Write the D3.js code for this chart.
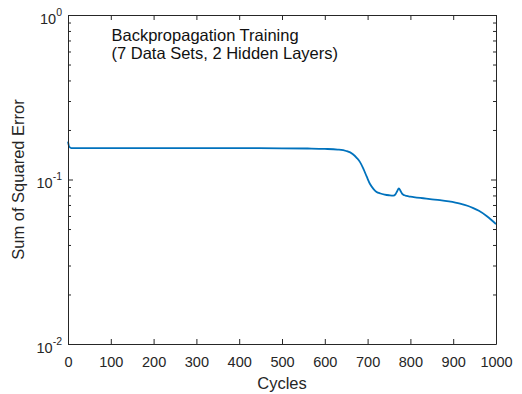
<!DOCTYPE html>
<html>
<head>
<meta charset="utf-8">
<script src="https://cdn.jsdelivr.net/npm/d3@7"></script>
<style>
  html, body { margin: 0; padding: 0; background: #fff; }
  svg { display: block; font-family: "Liberation Sans", Arial, Helvetica, sans-serif; }
</style>
</head>
<body>
<svg id="chart" width="522" height="394"></svg>
<script>
// ---- data ----
const cycles = [0, 3, 8, 50, 100, 200, 300, 400, 500, 560, 600, 630, 650, 665, 675, 682, 690, 698, 706, 714, 721, 730, 740, 750, 760, 765, 769, 773, 777, 781, 786, 791, 800, 815, 830, 846, 869, 890, 916, 935, 947, 960, 978, 990, 1000];
const sse    = [0.170, 0.158, 0.155, 0.155, 0.155, 0.155, 0.155, 0.155, 0.1548, 0.1543, 0.1535, 0.152, 0.149, 0.143, 0.135, 0.128, 0.1165, 0.104, 0.0935, 0.0875, 0.0840, 0.0822, 0.0810, 0.0802, 0.0797, 0.0812, 0.0848, 0.0884, 0.0852, 0.0818, 0.0802, 0.0794, 0.0786, 0.0777, 0.0769, 0.0760, 0.0749, 0.0736, 0.0714, 0.0690, 0.0670, 0.0645, 0.0600, 0.0565, 0.0535];
const xTickValues = [0, 100, 200, 300, 400, 500, 600, 700, 800, 900, 1000];
const yDecades = [0.01, 0.1, 1];
const yDecadeExponents = ["-2", "-1", "0"];
const xLabel = "Cycles";
const yLabel = "Sum of Squared Error";
const annotation = ["Backpropagation Training", "(7 Data Sets, 2 Hidden Layers)"];

// ---- layout ----
const L = 68, R = 496, T = 15, B = 344;
const ink = "#262626";
const svg = d3.select("#chart");

const x = d3.scaleLinear().domain([0, 1000]).range([L, R]);
const y = d3.scaleLog().domain([0.01, 1]).range([B, T]);

const minorY = y.ticks().filter(v => !yDecades.some(d => Math.abs(d - v) < 1e-12));

// plot line
const pts = cycles.map((c, i) => ({ c, v: sse[i] }));
svg.append("path")
  .datum(pts)
  .attr("fill", "none")
  .attr("stroke", "#0072BD")
  .attr("stroke-width", 1.8)
  .attr("stroke-linejoin", "round")
  .attr("d", d3.line().x(d => x(d.c)).y(d => y(d.v)).curve(d3.curveMonotoneX));

// axes (ticks inward)
function styleAxis(g) {
  g.selectAll("path.domain").attr("stroke", ink).attr("stroke-width", 1);
  g.selectAll(".tick line").attr("stroke", ink).attr("stroke-width", 1);
  g.selectAll(".tick text").attr("fill", ink).attr("font-size", 14.5).attr("font-family", "'Liberation Sans', Arial, sans-serif");
}

const xb = svg.append("g").attr("transform", `translate(0,${B})`)
  .call(d3.axisBottom(x).tickValues(xTickValues).tickSizeInner(-5).tickSizeOuter(0).tickPadding(13).tickFormat(d3.format("d")));
styleAxis(xb);
const xt = svg.append("g").attr("transform", `translate(0,${T})`)
  .call(d3.axisTop(x).tickValues(xTickValues).tickSizeInner(-5).tickSizeOuter(0).tickFormat(""));
styleAxis(xt);

const yl = svg.append("g").attr("transform", `translate(${L},0)`)
  .call(d3.axisLeft(y).tickValues(yDecades).tickSizeInner(-5).tickSizeOuter(0).tickFormat(""));
styleAxis(yl);
const ylm = svg.append("g").attr("transform", `translate(${L},0)`)
  .call(d3.axisLeft(y).tickValues(minorY).tickSizeInner(-3).tickSizeOuter(0).tickFormat(""));
styleAxis(ylm);
ylm.select("path.domain").remove();
const yr = svg.append("g").attr("transform", `translate(${R},0)`)
  .call(d3.axisRight(y).tickValues(yDecades).tickSizeInner(-5).tickSizeOuter(0).tickFormat(""));
styleAxis(yr);
const yrm = svg.append("g").attr("transform", `translate(${R},0)`)
  .call(d3.axisRight(y).tickValues(minorY).tickSizeInner(-3).tickSizeOuter(0).tickFormat(""));
styleAxis(yrm);
yrm.select("path.domain").remove();

// y decade labels with superscripts
yDecades.forEach((v, i) => {
  const t = svg.append("text")
    .attr("x", 62)
    .attr("y", y(v) + 8.5)
    .attr("text-anchor", "end")
    .attr("fill", ink)
    .attr("font-size", 14.5);
  t.append("tspan").text("10");
  t.append("tspan").attr("font-size", 10.5).attr("dy", -8).text(yDecadeExponents[i]);
});

// axis titles
svg.append("text")
  .attr("x", (L + R) / 2).attr("y", 389)
  .attr("text-anchor", "middle").attr("fill", ink).attr("font-size", 16.5)
  .text(xLabel);
svg.append("text")
  .attr("transform", `translate(24,${(T + B) / 2}) rotate(-90)`)
  .attr("text-anchor", "middle").attr("fill", ink).attr("font-size", 16.5)
  .text(yLabel);

// annotation
annotation.forEach((s, i) => {
  svg.append("text")
    .attr("x", 111.5).attr("y", 40.5 + i * 18)
    .attr("fill", "#111").attr("font-size", 16.5)
    .text(s);
});
</script>
</body>
</html>
